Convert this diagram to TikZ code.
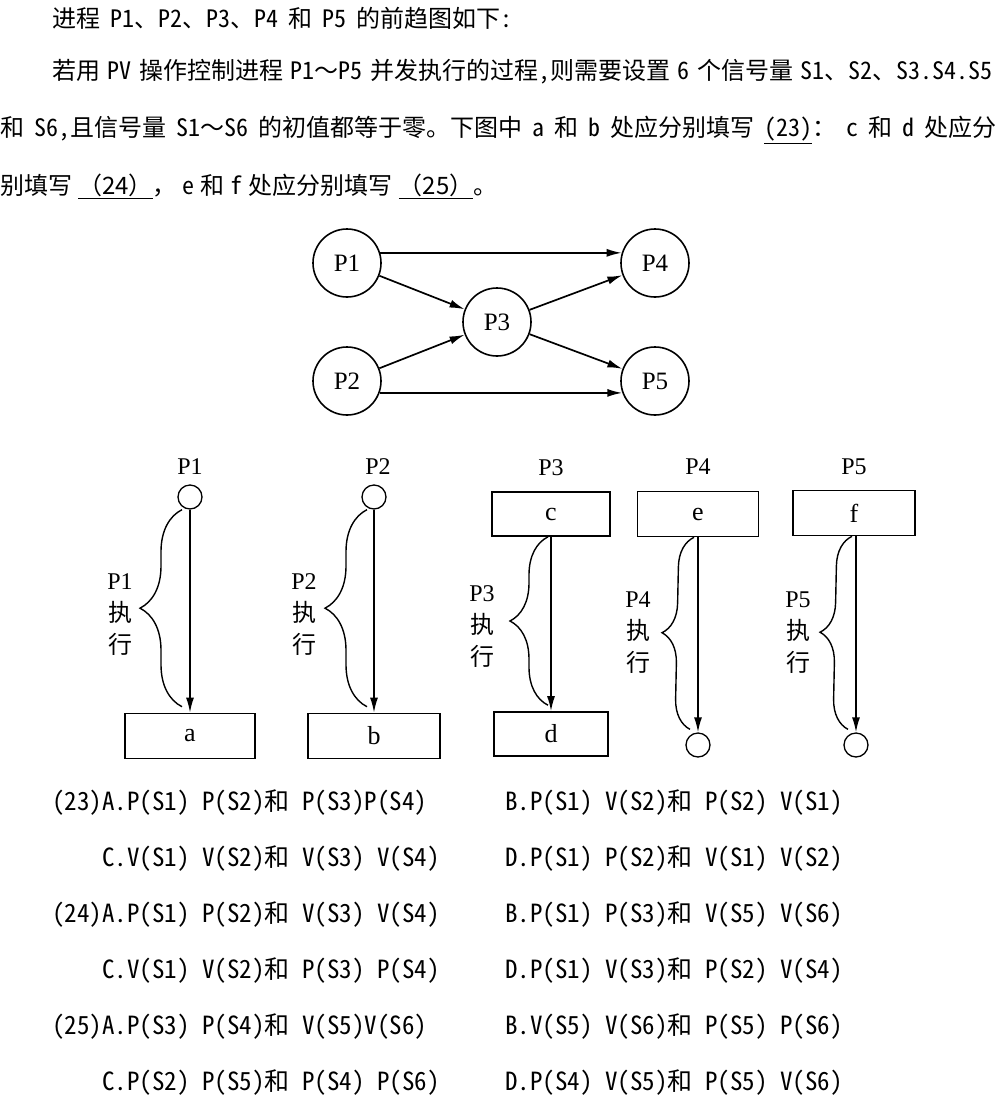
\documentclass[tikz,border=0pt]{standalone}
\usepackage{fontspec}
\setmainfont{Noto Sans CJK SC}[RawFeature=+hwid]
\newfontfamily\figfont{Liberation Serif}
\newfontfamily\figcjk{Noto Sans CJK SC}
\usetikzlibrary{arrows.meta, decorations.pathreplacing}
\newcommand{\tsp}[1]{\spaceskip #1\relax}

\tikzset{
    txt/.style={anchor=west, inner sep=0pt, font=\fontsize{24}{24}\selectfont\tsp{#1}},
    txt/.default=10pt,
    opt/.style={anchor=west, inner sep=0pt, font=\fontsize{25}{25}\selectfont},
    proc/.style={circle, draw, line width=1.6pt, minimum size=68pt, inner sep=0pt, font=\figfont\fontsize{25}{25}\selectfont},
    dot/.style={circle, draw, line width=1.3pt, minimum size=24pt, inner sep=0pt},
    pvbox/.style={draw, line width=1.6pt, minimum height=45pt, inner sep=0pt, font=\figfont\fontsize{26}{26}\selectfont},
    lbl/.style={inner sep=0pt, font=\figfont\fontsize{24}{24}\selectfont},
    exec/.style={align=center, inner sep=0pt, font=\figfont\fontsize{24}{32}\selectfont},
    arr/.style={-{Latex[length=15pt,width=8pt]}, line width=1.7pt},
    brc/.style={decorate, decoration={brace, amplitude=#1}, line width=1.4pt}
}
\newcommand{\runs}[1]{#1\\{\figcjk 执}\\{\figcjk 行}}
\newcommand{\fw}[1]{{\figcjk #1}}

\begin{document}
\begin{tikzpicture}[x=1pt, y=-1pt]
    \useasboundingbox (0,0) rectangle (1002,1104);

    % Question text
    \node[txt] (l1) at (52,18) {进程 P1\fw{、}P2\fw{、}P3\fw{、}P4 和 P5 的前趋图如下:};
    \node[txt=7.5pt] (l2) at (52,72) {若用 PV 操作控制进程 P1\fw{～}P5 并发执行的过程,则需要设置 6 个信号量 S1、S2、S3.S4.S5};
    \node[txt=10pt] (l3) at (0,130) {和 S6,且信号量 S1\fw{～}S6 的初值都等于零。下图中 a 和 b 处应分别填写 \underline{(23)}\fw{：} c 和 d 处应分};
    \node[txt=6pt] (l4) at (0,186) {别填写 \fw{\underline{（24）}， }e 和 f 处应分别填写 \fw{\underline{（25）}。}};

    % Precedence graph
    \node[proc] (p1) at (347,263) {P1};
    \node[proc] (p2) at (347,381) {P2};
    \node[proc] (p3) at (497,322) {P3};
    \node[proc] (p4) at (655,263) {P4};
    \node[proc] (p5) at (655,381) {P5};
    \draw[arr] (p1.17) -- (p4.163);
    \draw[arr] (p2.-20) -- (p5.200);
    \draw[arr] (p1) -- (p3);
    \draw[arr] (p2) -- (p3);
    \draw[arr] (p3) -- (p4);
    \draw[arr] (p3) -- (p5);

    % P1 and P2
    \node[lbl] (n1) at (190,467) {P1};
    \node[dot] (t1) at (190,497) {};
    \node[pvbox, minimum width=130pt] (a) at (190,736) {a};
    \draw[arr] (t1) -- (a);
    \draw[brc=42pt] ([xshift=-8pt,yshift=6pt]a.north) -- ([xshift=-8pt]t1.south);
    \node[exec] (x1) at (120,615) {\runs{P1}};

    \node[lbl] (n2) at (378,467) {P2};
    \node[dot] (t2) at (374,497) {};
    \node[pvbox, minimum width=132pt] (b) at (374,736) {b};
    \draw[arr] (t2) -- (b);
    \draw[brc=42pt] ([xshift=-7pt,yshift=6pt]b.north) -- ([xshift=-7pt]t2.south);
    \node[exec] (x2) at (304,615) {\runs{P2}};

    % P3
    \node[lbl] (n3) at (551,468) {P3};
    \node[pvbox, minimum width=118pt, minimum height=44pt] (c) at (551,514) {c};
    \node[pvbox, minimum width=114pt, minimum height=44pt] (d) at (551,734) {d};
    \draw[arr] (c) -- (d);
    \draw[brc=38pt] ([xshift=-3pt,yshift=6pt]d.north) -- ([xshift=-3pt]c.south);
    \node[exec] (x3) at (482,627) {\runs{P3}};

    % P4 and P5
    \node[lbl] (n4) at (698,467) {P4};
    \node[pvbox, minimum width=121pt] (e) at (698,514) {e};
    \node[dot] (u4) at (698,745) {};
    \draw[arr] (e) -- (u4);
    \draw[brc=30pt] ([xshift=-8pt,yshift=3pt]u4.north) -- ([xshift=-4pt]e.south);
    \node[exec] (x4) at (638,633) {\runs{P4}};

    \node[lbl] (n5) at (854,467) {P5};
    \node[pvbox, minimum width=122pt] (f) at (854,513) {f};
    \node[dot] (u5) at (856,745) {};
    \draw[arr] (f.south -| u5) -- (u5);
    \draw[brc=30pt] ([xshift=-8pt,yshift=3pt]u5.north) -- ([xshift=-4pt]f.south -| u5);
    \node[exec] (x5) at (798,633) {\runs{P5}};

    % Choices
    \node[opt] (o1a) at (52,803) {(23)A.P(S1) P(S2)和 P(S3)P(S4)};
    \node[opt] (o1b) at (505,803) {B.P(S1) V(S2)和 P(S2) V(S1)};
    \node[opt] (o1c) at (102,859) {C.V(S1) V(S2)和 V(S3) V(S4)};
    \node[opt] (o1d) at (505,859) {D.P(S1) P(S2)和 V(S1) V(S2)};
    \node[opt] (o2a) at (52,915) {(24)A.P(S1) P(S2)和 V(S3) V(S4)};
    \node[opt] (o2b) at (505,915) {B.P(S1) P(S3)和 V(S5) V(S6)};
    \node[opt] (o2c) at (102,971) {C.V(S1) V(S2)和 P(S3) P(S4)};
    \node[opt] (o2d) at (505,971) {D.P(S1) V(S3)和 P(S2) V(S4)};
    \node[opt] (o3a) at (52,1027) {(25)A.P(S3) P(S4)和 V(S5)V(S6)};
    \node[opt] (o3b) at (505,1027) {B.V(S5) V(S6)和 P(S5) P(S6)};
    \node[opt] (o3c) at (102,1083) {C.P(S2) P(S5)和 P(S4) P(S6)};
    \node[opt] (o3d) at (505,1083) {D.P(S4) V(S5)和 P(S5) V(S6)};
\end{tikzpicture}
\end{document}
